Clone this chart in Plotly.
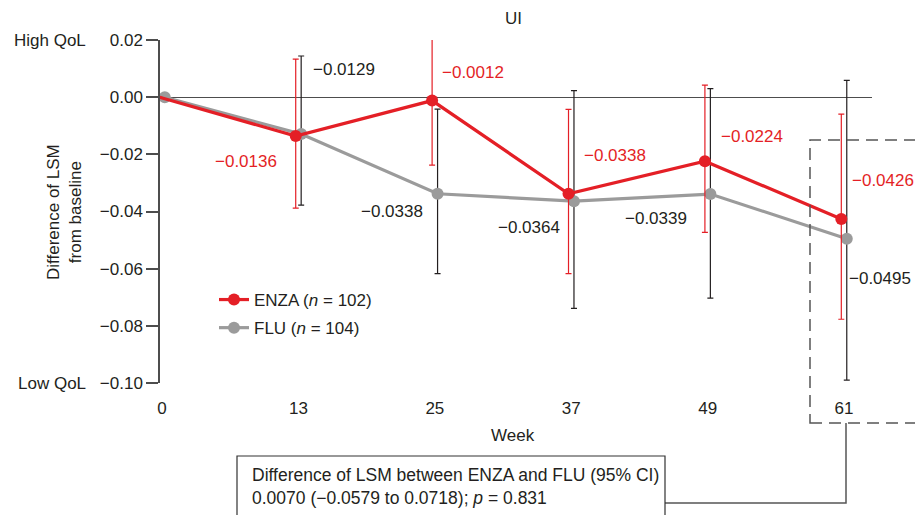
import plotly.graph_objects as go

# ---------------- data ----------------
weeks = ["0", "13", "25", "37", "49", "61"]
enza_lsm = [0.0, -0.0136, -0.0012, -0.0338, -0.0224, -0.0426]
flu_lsm = [0.0, -0.0129, -0.0338, -0.0364, -0.0339, -0.0495]
enza_ci_low = [None, -0.0388, -0.0238, -0.0617, -0.0473, -0.0777]
enza_ci_high = [None, 0.0133, 0.0205, -0.0043, 0.0042, -0.0059]
flu_ci_low = [None, -0.0378, -0.0617, -0.0739, -0.0703, -0.0990]
flu_ci_high = [None, 0.0144, -0.0042, 0.0023, 0.0030, 0.0059]
y_tickvals = [0.02, 0.0, -0.02, -0.04, -0.06, -0.08, -0.10]
y_ticktext = ["0.02", "0.00", "−0.02", "−0.04", "−0.06", "−0.08", "−0.10"]
enza_name = "ENZA (<i>n</i> = 102)"
flu_name = "FLU (<i>n</i> = 104)"
summary_text = ("Difference of LSM between ENZA and FLU (95% CI)<br>"
                "0.0070 (−0.0579 to 0.0718); <i>p</i> = 0.831")

# ---------------- styles ----------------
RED = "#e41f26"
GRAY = "#9b9b9b"
DARK = "#231f20"
AXIS = "#4d4d4d"
FONT = "Liberation Sans, Arial, sans-serif"
FS = 17


def fmt(v):
    s = f"{abs(v):.4f}"
    return ("−" if v < 0 else "") + s


def err(vals, lo, hi):
    plus = [None if h is None else h - v for v, h in zip(vals, hi)]
    minus = [None if l is None else v - l for v, l in zip(vals, lo)]
    return plus, minus


idx = list(range(len(weeks)))
enza_x = [i - 0.02 for i in idx]
flu_x = [i + 0.02 for i in idx]

ep, em = err(enza_lsm, enza_ci_low, enza_ci_high)
fp, fm = err(flu_lsm, flu_ci_low, flu_ci_high)

fig = go.Figure()
fig.add_trace(go.Scatter(
    x=flu_x, y=flu_lsm, name=flu_name, mode="lines+markers",
    line=dict(color=GRAY, width=3.2), marker=dict(color=GRAY, size=12),
    error_y=dict(type="data", symmetric=False, array=fp, arrayminus=fm,
                 color=DARK, thickness=1.2, width=3),
    legendrank=2, legendgroup="flu", cliponaxis=False,
))
fig.add_trace(go.Scatter(
    x=enza_x, y=enza_lsm, name=enza_name, mode="lines+markers",
    line=dict(color=RED, width=3.2), marker=dict(color=RED, size=12),
    error_y=dict(type="data", symmetric=False, array=ep, arrayminus=em,
                 color=RED, thickness=1.2, width=3),
    legendrank=1, legendgroup="enza", cliponaxis=False,
))

# value labels: (xanchor, xshift, yshift) relative to each point
enza_label_pos = [None, ("right", -19, -25), ("left", 5, 28), ("left", 11, 38),
                  ("left", 11, 25), ("left", 6, 38)]
flu_label_pos = [None, ("left", 13, 65), ("right", -10, -18), ("right", -9, -26),
                 ("right", -19, -24), ("left", 3, -40)]

for vals, pos, col in ((enza_lsm, enza_label_pos, RED), (flu_lsm, flu_label_pos, DARK)):
    for i, (v, p) in enumerate(zip(vals, pos)):
        if p is None:
            continue
        fig.add_annotation(x=i, y=v, xref="x", yref="y", text=fmt(v),
                           showarrow=False, xanchor=p[0], yanchor="middle",
                           xshift=p[1], yshift=p[2],
                           font=dict(color=col, size=FS, family=FONT))

# page body has an 8px margin; the figure is laid out in window pixel coords
OFF = 8
W, H = 923 - OFF, 515 - OFF
L, R, T, B = 160 - OFF, 51, 40 - OFF, 132
pw, ph = W - L - R, H - T - B
PLOT_L, PLOT_BOTTOM = L + OFF, T + OFF + ph


def px(xp):
    return (xp - PLOT_L) / pw


def py(yp):
    return (PLOT_BOTTOM - yp) / ph


def note(x, y, text, xanchor="center", **kw):
    fig.add_annotation(x=x, y=y, text=text, showarrow=False, xanchor=xanchor,
                       yanchor="middle", font=dict(size=FS, color=DARK, family=FONT), **kw)


note(px(513), py(18), "UI", xref="paper", yref="paper")
note(px(513), py(436), "Week", xref="paper", yref="paper")
note(px(64), py(212), "Difference of LSM<br>from baseline", xref="paper", yref="paper",
     textangle=-90)
note(px(88), y_tickvals[0], "High QoL", xanchor="right", xref="paper", yref="y")
note(px(88), y_tickvals[-1], "Low QoL", xanchor="right", xref="paper", yref="y")

# summary box + connector + dashed highlight
fig.add_shape(type="rect", xref="paper", yref="paper",
              x0=px(810), x1=px(940), y0=py(423), y1=py(140),
              line=dict(color="#555555", width=1.5, dash="12px,7px"))
fig.add_shape(type="path", xref="paper", yref="paper",
              path=f"M {px(846)} {py(423)} L {px(846)} {py(503)} L {px(665)} {py(503)}",
              line=dict(color="#555555", width=1.5))
fig.add_shape(type="rect", xref="paper", yref="paper",
              x0=px(237), x1=px(665), y0=py(530), y1=py(456),
              line=dict(color="#333333", width=1.2), fillcolor="white")
fig.add_annotation(x=px(250), y=py(486), xref="paper", yref="paper", text=summary_text,
                   xanchor="left", yanchor="middle", align="left", showarrow=False,
                   font=dict(size=17.5, color=DARK, family=FONT))

fig.update_layout(
    width=W, height=H, margin=dict(l=L, r=R, t=T, b=B, autoexpand=False),
    paper_bgcolor="white", plot_bgcolor="white",
    font=dict(family=FONT, size=FS, color=DARK),
    showlegend=True,
    legend=dict(x=px(214), y=py(282), xanchor="left", yanchor="top",
                bgcolor="rgba(0,0,0,0)", font=dict(size=FS, color=DARK),
                itemwidth=30, tracegroupgap=3, traceorder="grouped"),
    xaxis=dict(range=[-0.015, 5.205], tickvals=idx, ticktext=weeks,
               showline=False, showgrid=False, zeroline=False,
               ticks="outside", ticklen=10, tickcolor="rgba(0,0,0,0)",
               tickfont=dict(size=FS, color=DARK)),
    yaxis=dict(range=[-0.10, 0.02], tickvals=y_tickvals, ticktext=y_ticktext,
               showline=True, linecolor=AXIS, linewidth=1.5,
               ticks="outside", ticklen=12, tickcolor=AXIS, tickwidth=1.5,
               showgrid=False, zeroline=True, zerolinecolor=AXIS, zerolinewidth=1.2,
               tickfont=dict(size=FS, color=DARK)),
)

fig.write_html("out.html")
